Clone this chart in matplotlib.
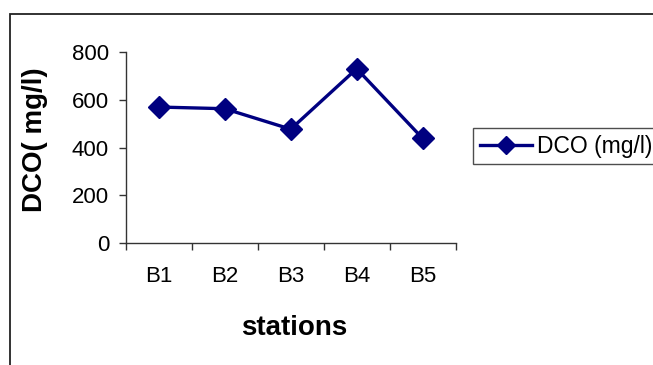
import matplotlib
matplotlib.use("Agg")
import matplotlib.pyplot as plt
from matplotlib.patches import Rectangle
from matplotlib.lines import Line2D

stations = ["B1", "B2", "B3", "B4", "B5"]
dco = [570, 563, 477, 731, 438]
series_name = "DCO (mg/l)"
y_ticks = [0, 200, 400, 600, 800]

plt.rcParams['font.family'] = ['Liberation Sans', 'DejaVu Sans']

W, H = 653, 365
fig = plt.figure(figsize=(W / 100, H / 100), dpi=100)
fig.patch.set_facecolor('white')

# outer chart border (extends beyond the right and bottom edges)
fig.patches.append(Rectangle((9.7 / W, -0.1), 1.2, (H - 13.7) / H + 0.1,
                             transform=fig.transFigure, fill=False,
                             edgecolor='#222222', linewidth=1.3))

ax = fig.add_axes([125.7 / W, 122.3 / H, 330 / W, 190.4 / H])
x = list(range(len(stations)))
ax.plot(x, dco, color='#000080', linewidth=2.4, marker='D', markersize=11,
        markerfacecolor='#000080', markeredgecolor='#000080', label=series_name)

ax.set_xlim(-0.5, len(stations) - 0.5)
ax.set_ylim(0, 800)
ax.set_yticks(y_ticks)
ax.set_xticks(x)
ax.set_xticklabels(stations)
ax.set_xticks([i - 0.5 for i in range(len(stations) + 1)], minor=True)

for s in ['top', 'right']:
    ax.spines[s].set_visible(False)
for s in ['left', 'bottom']:
    ax.spines[s].set_color('#333333')
    ax.spines[s].set_linewidth(1.0)

ax.tick_params(axis='y', direction='out', length=5, width=1.0, color='#333333',
               labelsize=16, pad=7)
ax.tick_params(axis='x', which='major', length=0, labelsize=16, pad=17)
ax.tick_params(axis='x', which='minor', direction='out', length=5, width=1.0,
               color='#333333')

ax.set_xlabel('stations', fontsize=20, fontweight='bold')
ax.xaxis.set_label_coords(0.5115, -0.449)
ax.xaxis.label.set_va('center')
ax.set_ylabel('DCO( mg/l)', fontsize=20, fontweight='bold')
ax.yaxis.set_label_coords((35 - 125.7) / 330, (242.7 - 140) / 190.4)
ax.yaxis.label.set_va('center')

leg = fig.legend(handles=[Line2D([0], [0], color='#000080', linewidth=2.4, marker='D',
                                 markersize=9, markerfacecolor='#000080',
                                 markeredgecolor='#000080')],
                 labels=[series_name], loc='upper left',
                 bbox_to_anchor=(472.7 / W, 1 - 127.7 / H), fontsize=16.5,
                 frameon=True, fancybox=False, borderpad=0.3,
                 handlelength=2.3, handletextpad=0.2, borderaxespad=0)
leg.get_frame().set_edgecolor('#222222')
leg.get_frame().set_linewidth(1.0)

fig.savefig('out.png', dpi=100, facecolor='white')
